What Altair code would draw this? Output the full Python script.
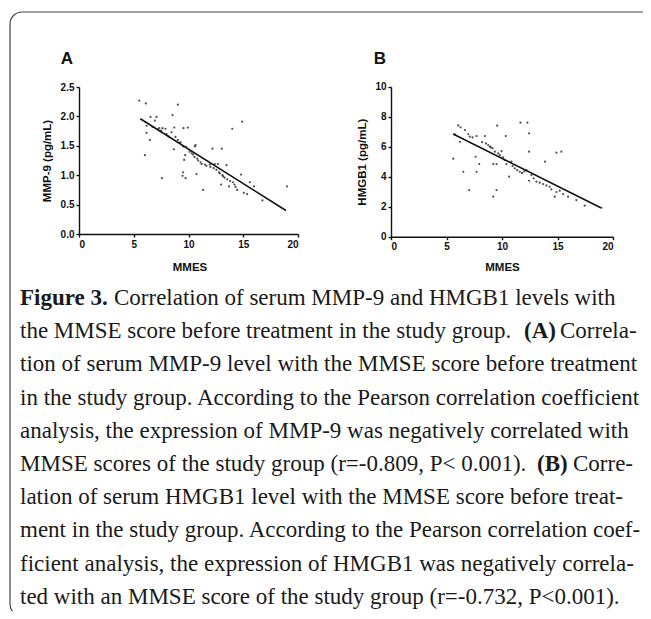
import altair as alt
import pandas as pd

# ---------------- data ----------------
# Panel A: MMSE score vs serum MMP-9 (pg/mL)
a_mmse = [5.5, 6.1, 9.03, 8.54, 6.53, 7.08, 6.93, 6.17, 6.72, 7.33, 7.63, 7.9, 6.17, 6.47,
          6.02, 7.57, 8.45, 8.7, 9.54, 9.94, 8.81, 9.03, 8.66, 9.27, 9.51, 9.76, 9.7, 9.6,
          9.51, 9.45, 9.73, 10.64, 10.58, 10.43, 10.55, 10.88, 10.73, 11.34, 11.2, 11.64,
          11.94, 12.4, 12.7, 13.04, 12.19, 13.47, 12.55, 12.86, 13.16, 12.98, 13.53, 13.7,
          14.07, 14.3, 14.44, 14.0, 14.9, 14.8, 15.05, 15.35, 15.6, 15.99, 16.75, 19.0,
          7.2, 7.5, 8.0, 8.2, 9.2, 10.1, 10.3, 10.8, 11.1, 11.5, 12.0, 12.3, 12.8, 13.1,
          13.3, 13.8, 14.2]
a_mmp9 = [2.27, 2.22, 2.20, 2.02, 1.99, 1.99, 1.93, 1.84, 1.82, 1.80, 1.80, 1.79, 1.72, 1.60,
          1.34, 0.95, 1.73, 1.81, 1.80, 1.81, 1.65, 1.60, 1.44, 1.56, 1.49, 1.48, 1.34, 1.26,
          1.05, 0.99, 0.95, 1.51, 1.49, 1.35, 1.31, 1.25, 1.02, 0.75, 1.19, 1.16,
          1.18, 1.19, 1.19, 1.45, 1.45, 1.17, 1.09, 1.03, 0.98, 0.84, 0.93, 0.81,
          0.88, 0.80, 0.75, 1.79, 1.91, 1.01, 0.70, 0.68, 0.88, 0.81, 0.57, 0.81,
          1.78, 1.76, 1.70, 1.66, 1.55, 1.40, 1.37, 1.28, 1.22, 1.18, 1.14, 1.12, 1.05, 1.00,
          0.96, 0.90, 0.84]
a_fit_x = [5.6, 18.9]
a_fit_y = [1.96, 0.40]

# Panel B: MMSE score vs serum HMGB1 (pg/mL)
b_mmse = [5.61, 5.76, 6.06, 6.27, 6.21, 6.51, 6.66, 6.96, 7.1, 7.35, 7.71, 7.62, 7.71, 7.95,
          7.05, 8.46, 8.55, 8.76, 8.91, 9.15, 9.21, 9.51, 9.57, 9.21, 9.51, 9.36, 9.66,
          9.81, 9.96, 10.1, 10.25, 10.34, 10.4, 10.64, 10.85, 10.95, 11.15, 11.37, 11.6,
          11.66, 12.29, 12.44, 12.44, 12.2, 12.44, 12.65, 12.86, 13.1, 13.4, 13.7, 13.88,
          14.0, 14.3, 14.45, 14.75, 14.9, 15.35, 14.9, 15.2, 15.5, 15.95, 16.7, 17.45, 18.95,
          8.2, 9.0, 11.8, 12.0]
b_hmgb1 = [5.2, 6.82, 7.42, 7.29, 6.33, 4.33, 7.11, 6.84, 6.67, 6.62, 6.71, 5.33, 4.33, 4.84,
           3.11, 6.71, 6.22, 6.11, 6.0, 5.89, 4.84, 4.84, 7.4, 2.67, 3.11, 5.67, 5.56,
           5.44, 5.71, 5.29, 5.11, 6.71, 4.84, 4.0, 5.0, 4.71, 4.56, 4.44, 4.33,
           7.6, 7.6, 6.89, 5.67, 4.44, 3.73, 4.11, 3.89, 3.67, 3.6, 3.51, 5.0,
           3.42, 3.33, 3.16, 2.67, 5.6, 5.67, 2.98, 3.07, 2.84, 2.67, 2.44, 2.07, 1.93,
           6.3, 5.95, 4.25, 4.35]
b_fit_x = [5.6, 18.9]
b_fit_y = [6.85, 1.93]

x_ticks = [0, 5, 10, 15, 20]
a_y_ticks = [0.0, 0.5, 1.0, 1.5, 2.0, 2.5]
b_y_ticks = [0, 2, 4, 6, 8, 10]

x_title = "MMES"
a_y_title = "MMP-9 (pg/mL)"
b_y_title = "HMGB1 (pg/mL)"
panel_labels = ["A", "B"]

# caption: list of lines, each a list of (text, bold)
caption_lines = [
    [("Figure 3.", True), ("Correlation of serum MMP-9 and HMGB1 levels with", False)],
    [("the MMSE score before treatment in the study group.", False), ("(A)", True), ("Correla-", False)],
    [("tion of serum MMP-9 level with the MMSE score before treatment", False)],
    [("in the study group. According to the Pearson correlation coefficient", False)],
    [("analysis, the expression of MMP-9 was negatively correlated with", False)],
    [("MMSE scores of the study group (r=-0.809, P< 0.001).", False), ("(B)", True), ("Corre-", False)],
    [("lation of serum HMGB1 level with the MMSE score before treat-", False)],
    [("ment in the study group. According to the Pearson correlation coef-", False)],
    [("ficient analysis, the expression of HMGB1 was negatively correla-", False)],
    [("ted with an MMSE score of the study group (r=-0.732, P<0.001).", False)],
]

# ---------------- layout (pixels inside the 635 x 603 canvas) ----------------
W, H = 635, 603
A_X_RANGE, A_Y_RANGE = [71, 290], [226, 79]
B_X_RANGE, B_Y_RANGE = [383, 605], [228.7, 78.7]
CAP_SIZE = 23
seg_x = {  # x start of each caption segment (line, segment)
    (0, 0): 12, (0, 1): 106,
    (1, 0): 12, (1, 1): 516, (1, 2): 552,
    (5, 0): 12, (5, 1): 529, (5, 2): 565,
}
LINE_Y0, LINE_DY = 290, 33.2

AX_FONT = "Liberation Sans"
axis_common = dict(
    grid=False, domainColor="#111", domainWidth=1.4, tickColor="#111", tickWidth=1.4,
    tickSize=3, labelFont=AX_FONT, labelFontWeight="bold", labelFontSize=10,
    labelColor="#111", titleFont=AX_FONT, titleFontWeight="bold", titleFontSize=11.5,
    titleColor="#111", titleBaseline="middle", labelPadding=2,
)


def panel(xs, ys, fx, fy, xr, yr, yticks, ytitle, yfmt, ydom, ytx, yty, xtx, xty):
    pts = pd.DataFrame({"x": xs, "y": ys})
    fit = pd.DataFrame({"x": fx, "y": fy})
    xscale = alt.Scale(domain=[0, 20], range=xr, nice=False, zero=False)
    yscale = alt.Scale(domain=ydom, range=yr, nice=False, zero=False)
    xaxis = alt.Axis(values=x_ticks, orient="bottom", offset=yr[0] - H,
                     title=x_title, titleX=xtx, titleY=xty, **axis_common)
    yaxis = alt.Axis(values=yticks, orient="left", offset=-xr[0], format=yfmt,
                     title=ytitle, titleX=ytx, titleY=yty, titleAngle=-90, **axis_common)
    p = alt.Chart(pts).mark_circle(size=5, color="#333", opacity=0.85).encode(
        x=alt.X("x:Q", scale=xscale, axis=xaxis),
        y=alt.Y("y:Q", scale=yscale, axis=yaxis),
    )
    l = alt.Chart(fit).mark_line(color="#111", strokeWidth=1.6).encode(
        x=alt.X("x:Q", scale=xscale, axis=None),
        y=alt.Y("y:Q", scale=yscale, axis=None),
    )
    return [p, l]


pa = panel(a_mmse, a_mmp9, a_fit_x, a_fit_y, A_X_RANGE, A_Y_RANGE, a_y_ticks, a_y_title,
           ".1f", [0, 2.5], -32, 152.5, 181.5, 33)
pb = panel(b_mmse, b_hmgb1, b_fit_x, b_fit_y, B_X_RANGE, B_Y_RANGE, b_y_ticks, b_y_title,
           "d", [0, 10], -29, 153.7, 494, 31)

letters = alt.Chart(pd.DataFrame({"t": panel_labels, "px": [59, 372]})).mark_text(
    font=AX_FONT, fontWeight="bold", fontSize=17, color="#111", baseline="middle", align="center"
).encode(x=alt.X("px:Q", scale=None), y=alt.value(50.5), text="t:N")

rows = []
for i, line in enumerate(caption_lines):
    for j, (txt, bold) in enumerate(line):
        rows.append({"t": txt, "bold": bold, "px": seg_x.get((i, j), 12),
                     "py": LINE_Y0 + i * LINE_DY})
cap = pd.DataFrame(rows)
CAP_FONT = "Liberation Serif"
cap_reg = alt.Chart(cap[~cap.bold]).mark_text(
    font=CAP_FONT, fontSize=CAP_SIZE, color="#1a1a1a", align="left", baseline="middle"
).encode(x=alt.X("px:Q", scale=None), y=alt.Y("py:Q", scale=None), text="t:N")
cap_bold = alt.Chart(cap[cap.bold]).mark_text(
    font=CAP_FONT, fontSize=CAP_SIZE, fontWeight="bold", color="#1a1a1a", align="left",
    baseline="middle"
).encode(x=alt.X("px:Q", scale=None), y=alt.Y("py:Q", scale=None), text="t:N")

border = alt.Chart(alt.Data(values=[{}])).mark_rect(
    fill=None, stroke="#444", strokeWidth=1.2, cornerRadius=12
).encode(x=alt.value(2), x2=alt.value(720), y=alt.value(4), y2=alt.value(608))

chart = alt.layer(border, *pa, *pb, letters, cap_reg, cap_bold).resolve_scale(
    x="independent", y="independent"
).resolve_axis(x="independent", y="independent").properties(
    width=W, height=H, autosize=alt.AutoSizeParams(type="none"), padding=0,
    background="white"
).configure_view(stroke=None)

chart.save("out.html", embed_options={"renderer": "svg", "actions": False})
